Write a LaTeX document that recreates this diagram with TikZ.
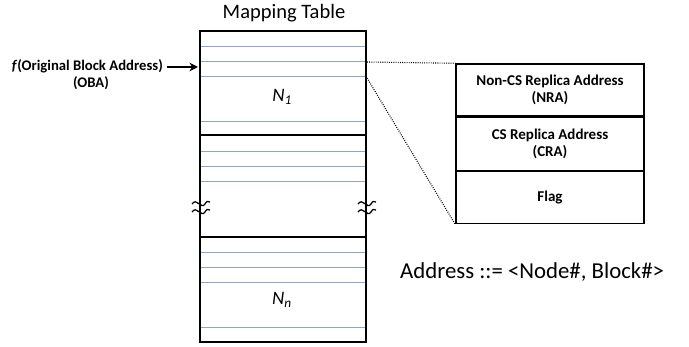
\documentclass[tikz,border=0pt]{standalone}
\usepackage{fontspec}
\setmainfont{Carlito}
\usetikzlibrary{arrows.meta,positioning}

\begin{document}
\begin{tikzpicture}[x=1pt,y=-1pt]
\tikzset{
  tableedge/.style={line width=2pt},
  rowline/.style={line width=0.9pt,draw=rowblue},
  fieldbox/.style={draw,line width=1.4pt,minimum width=188pt,inner sep=0pt,align=center,font=\bfseries\fontsize{15}{17}\selectfont},
  inlabel/.style={font=\bfseries\fontsize{14.7}{17}\selectfont,inner sep=0pt},
  blocklabel/.style={font=\itshape\fontsize{19}{21}\selectfont},
  zoomline/.style={line width=1.1pt,dash pattern=on 0.9pt off 1.3pt},
  pointer/.style={-{Stealth[length=3mm,width=3mm]},line width=1.6pt},
  gapmark/.pic={
    \draw[line width=1.3pt] (-9,-3) .. controls (-4,-10) and (0,3) .. (4,-3) .. controls (6,-6) .. (9,-5);
    \draw[line width=1.3pt] (-9,5) .. controls (-4,-2) and (0,11) .. (4,5) .. controls (6,2) .. (9,3);
  }
}
\definecolor{rowblue}{RGB}{140,165,200}
\useasboundingbox (0,0) rectangle (689,347);
% table rows
\foreach \y in {46,61,76,121,151,166,181,252,267,282,327}
  \draw[rowline] (200,\y) -- (366,\y);
% table frame
\draw[tableedge] (200,31) rectangle (366,342);
\draw[tableedge] (200,135) -- (366,135);
\draw[tableedge] (200,237) -- (366,237);
\coordinate (t_in) at (198,67);
\coordinate (t_top) at (367,62);
\coordinate (t_bot) at (367,78);
\node[font=\fontsize{20.5}{24}\selectfont] (title) at (284,13) {Mapping Table};
\node[blocklabel] (n_1) at (282,97) {N\textsubscript{1}};
\node[blocklabel] (n_n) at (282,300) {N\textsubscript{n}};
\pic at (201,207) {gapmark};
\pic at (367,207) {gapmark};
% input label
\node[inlabel,anchor=east] (oba) at (163,66) {\textit{f}(Original Block Address)};
\node[inlabel] (oba_s) at (91,83) {(OBA)};
\draw[pointer] (oba.east) ++(4,1) coordinate (a_s) -- (t_in);
% entry fields
\node[fieldbox,minimum height=52pt] (nra) at (550,90) {Non-CS Replica Address\\(NRA)};
\node[fieldbox,minimum height=53pt,below=0pt of nra] (cra) {CS Replica Address\\(CRA)};
\node[fieldbox,minimum height=52pt,below=0pt of cra] (flag) {Flag};
\draw[zoomline] (t_top) -- (nra.north west);
\draw[zoomline] (t_bot) -- (flag.south west);
\node[font=\fontsize{22.8}{26}\selectfont,anchor=west,inner sep=0pt] (addr) at (400,272) {Address ::= <Node\#, Block\#>};
\end{tikzpicture}
\end{document}
